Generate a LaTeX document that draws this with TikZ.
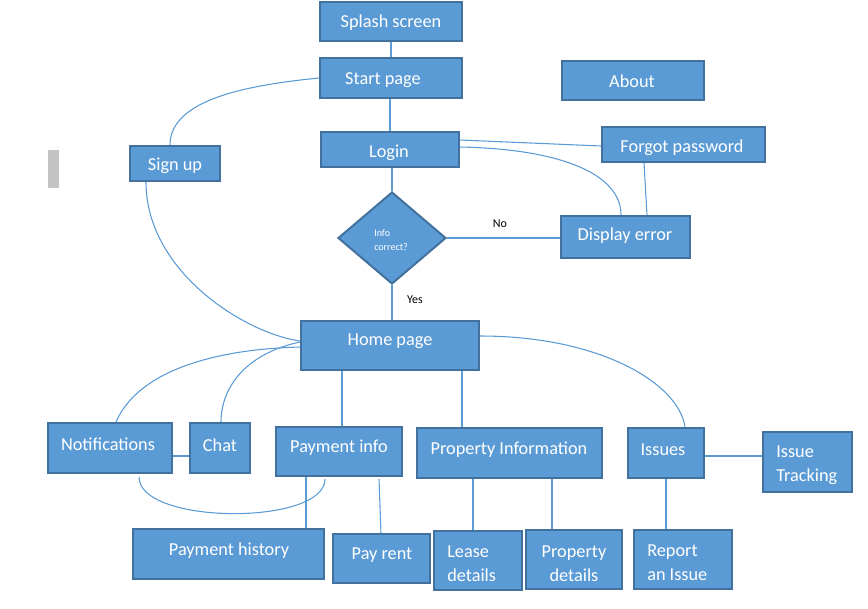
\documentclass[tikz,border=0pt]{standalone}
\usepackage{fontspec}
\setmainfont{Carlito}
\usetikzlibrary{fit,shapes.geometric,calc}
\definecolor{boxfill}{HTML}{5B9BD5}
\definecolor{boxline}{HTML}{41719C}
\definecolor{linkcol}{HTML}{5B9BD5}
\definecolor{grayblk}{HTML}{C3C3C3}
\tikzset{
  box/.style={draw=boxline, fill=boxfill, line width=1.5pt, inner sep=0pt, rectangle},
  lbl/.style={text=white, font=\fontsize{13.7}{18}\selectfont, inner sep=0pt, yshift=-1.3pt},
  lbltwo/.style={lbl, align=left},
  small/.style={text=white, font=\fontsize{7.5}{10.5}\selectfont, inner sep=0pt, align=left},
  yesno/.style={text=black, font=\fontsize{9}{11}\selectfont, inner sep=0pt, yshift=-0.8pt},
  link/.style={draw=linkcol, line width=0.8pt},
}
\begin{document}
\begin{tikzpicture}[x=0.75pt,y=-0.75pt]
\useasboundingbox (0,0) rectangle (868,608);
\fill[grayblk] (48,150) rectangle (59,188);
% boxes
\node[box, fit={(320,2)(462,41)}] (splash) {};
\node[box, fit={(320,58)(462,98)}] (start) {};
\node[box, fit={(562,61)(704,100)}] (about) {};
\node[box, fit={(321,132)(459,167)}] (login) {};
\node[box, fit={(602,127)(765,162)}] (forgot) {};
\node[box, fit={(130,146)(220,181)}] (signup) {};
\node[box, fit={(561,216)(690,258)}] (display) {};
\node[draw=boxline, fill=boxfill, line width=1.5pt, diamond, inner sep=0pt,
      minimum width=81pt, minimum height=69pt] (dec) at (392,238) {};
\node[box, fit={(301,321)(479,370)}] (home) {};
\node[box, fit={(48,423)(172,473)}] (notif) {};
\node[box, fit={(190,423)(250,473)}] (chat) {};
\node[box, fit={(276,427)(402,476)}] (payinfo) {};
\node[box, fit={(417,428)(602,478)}] (propinfo) {};
\node[box, fit={(628,428)(704,478)}] (issues) {};
\node[box, fit={(763,432)(852,492)}] (itrack) {};
\node[box, fit={(133,529)(324,579)}] (payhist) {};
\node[box, fit={(333,534)(430,583)}] (payrent) {};
\node[box, fit={(434,531)(522,590)}] (lease) {};
\node[box, fit={(526,530)(622,589)}] (propdet) {};
\node[box, fit={(634,530)(732,589)}] (report) {};
% labels
\node[lbl] (splashT) at (391,21) {Splash screen};
\node[lbl] (startT) at (383,78) {Start page};
\node[lbl] (aboutT) at (632,79) {About};
\node[lbl] (loginT) at (389,151) {Login};
\node[lbl] (forgotT) at (682,146) {Forgot password};
\node[lbl] (signupT) at (175,164) {Sign up};
\node[lbl] (displayT) at (625,234) {Display error};
\node[small, anchor=west] (decT) at (374,240) {Info\\correct?};
\node[yesno] (noT) at (500,223) {No};
\node[yesno] (yesT) at (415,299) {Yes};
\node[lbl] (homeT) at (390,339) {Home page};
\node[lbl] (notifT) at (108,443) {Notifications};
\node[lbl] (chatT) at (220,443) {Chat};
\node[lbl] (payinfoT) at (339,446) {Payment info};
\node[lbl] (propinfoT) at (509,448) {Property Information};
\node[lbl] (issuesT) at (663,448) {Issues};
\node[lbltwo, anchor=west] (itrackT) at (776,463) {Issue\\Tracking};
\node[lbl] (payhistT) at (229,549) {Payment history};
\node[lbl] (payrentT) at (382,553) {Pay rent};
\node[lbltwo, anchor=west] (leaseT) at (447,562) {Lease\\details};
\node[lbl, align=center] (propdetT) at (574,562) {Property\\details};
\node[lbltwo, anchor=west] (reportT) at (647,561) {Report\\an Issue};
% connectors
\draw[link] (splash.south) -- (start.north);
\draw[link] (login.north |- start.south) -- (login.north);
\draw[link] (dec.north |- login.south) -- (dec.north);
\draw[link] (dec.south) -- (dec.south |- home.north);
\draw[link] (dec.east) -- (dec.east -| display.west);
\draw[link] ($(login.north east)+(0,9)$) -- ($(forgot.north west)+(0,20)$);
\draw[link] ($(login.north east)+(0,16)$) .. controls +(101,2) and +(0,-41) .. ($(display.north west)+(61,0)$);
\draw[link] ($(forgot.south west)+(43,0)$) -- ($(display.north west)+(87,0)$);
\draw[link] ($(signup.north west)+(41,0)$) .. controls +(0,-46) and +(-70,7) .. (start.west);
\draw[link] ($(signup.south west)+(17,0)$) .. controls +(0,89) and +(-56,-8) .. ($(home.north west)+(0,21)$);
\draw[link] ($(notif.north west)+(69,0)$) .. controls +(23,-53) and +(-81,2) .. ($(home.north west)+(0,27)$);
\draw[link] ($(chat.north west)+(32,0)$) .. controls +(0,-33) and +(-56,12) .. ($(home.north west)+(0,22)$);
\draw[link] ($(home.north east)+(0,16)$) .. controls +(121,0) and +(-6,-43) .. ($(issues.north west)+(58,0)$);
\draw[link] ($(home.south west)+(42,0)$) -- ($(payinfo.north west)+(67,0)$);
\draw[link] ($(home.south west)+(162,0)$) -- ($(propinfo.north west)+(46,0)$);
\draw[link] ($(notif.south east)+(0,-18)$) -- ($(chat.south west)+(0,-18)$);
\draw[link] ($(notif.south west)+(92,3)$) .. controls +(0,48) and +(0,47) .. ($(payinfo.south west)+(50,2)$);
\draw[link] ($(payinfo.south west)+(31,0)$) -- ($(payhist.north west)+(174,0)$);
\draw[link] ($(payinfo.south west)+(104,2)$) -- ($(payrent.north west)+(49,0)$);
\draw[link] ($(propinfo.south west)+(57,0)$) -- ($(lease.north west)+(40,0)$);
\draw[link] ($(propinfo.south west)+(136,0)$) -- ($(propdet.north west)+(27,0)$);
\draw[link] ($(issues.south west)+(39,0)$) -- ($(report.north west)+(33,0)$);
\draw[link] ($(issues.south east)+(0,-23)$) -- ($(itrack.south west)+(0,-37)$);
\end{tikzpicture}
\end{document}
